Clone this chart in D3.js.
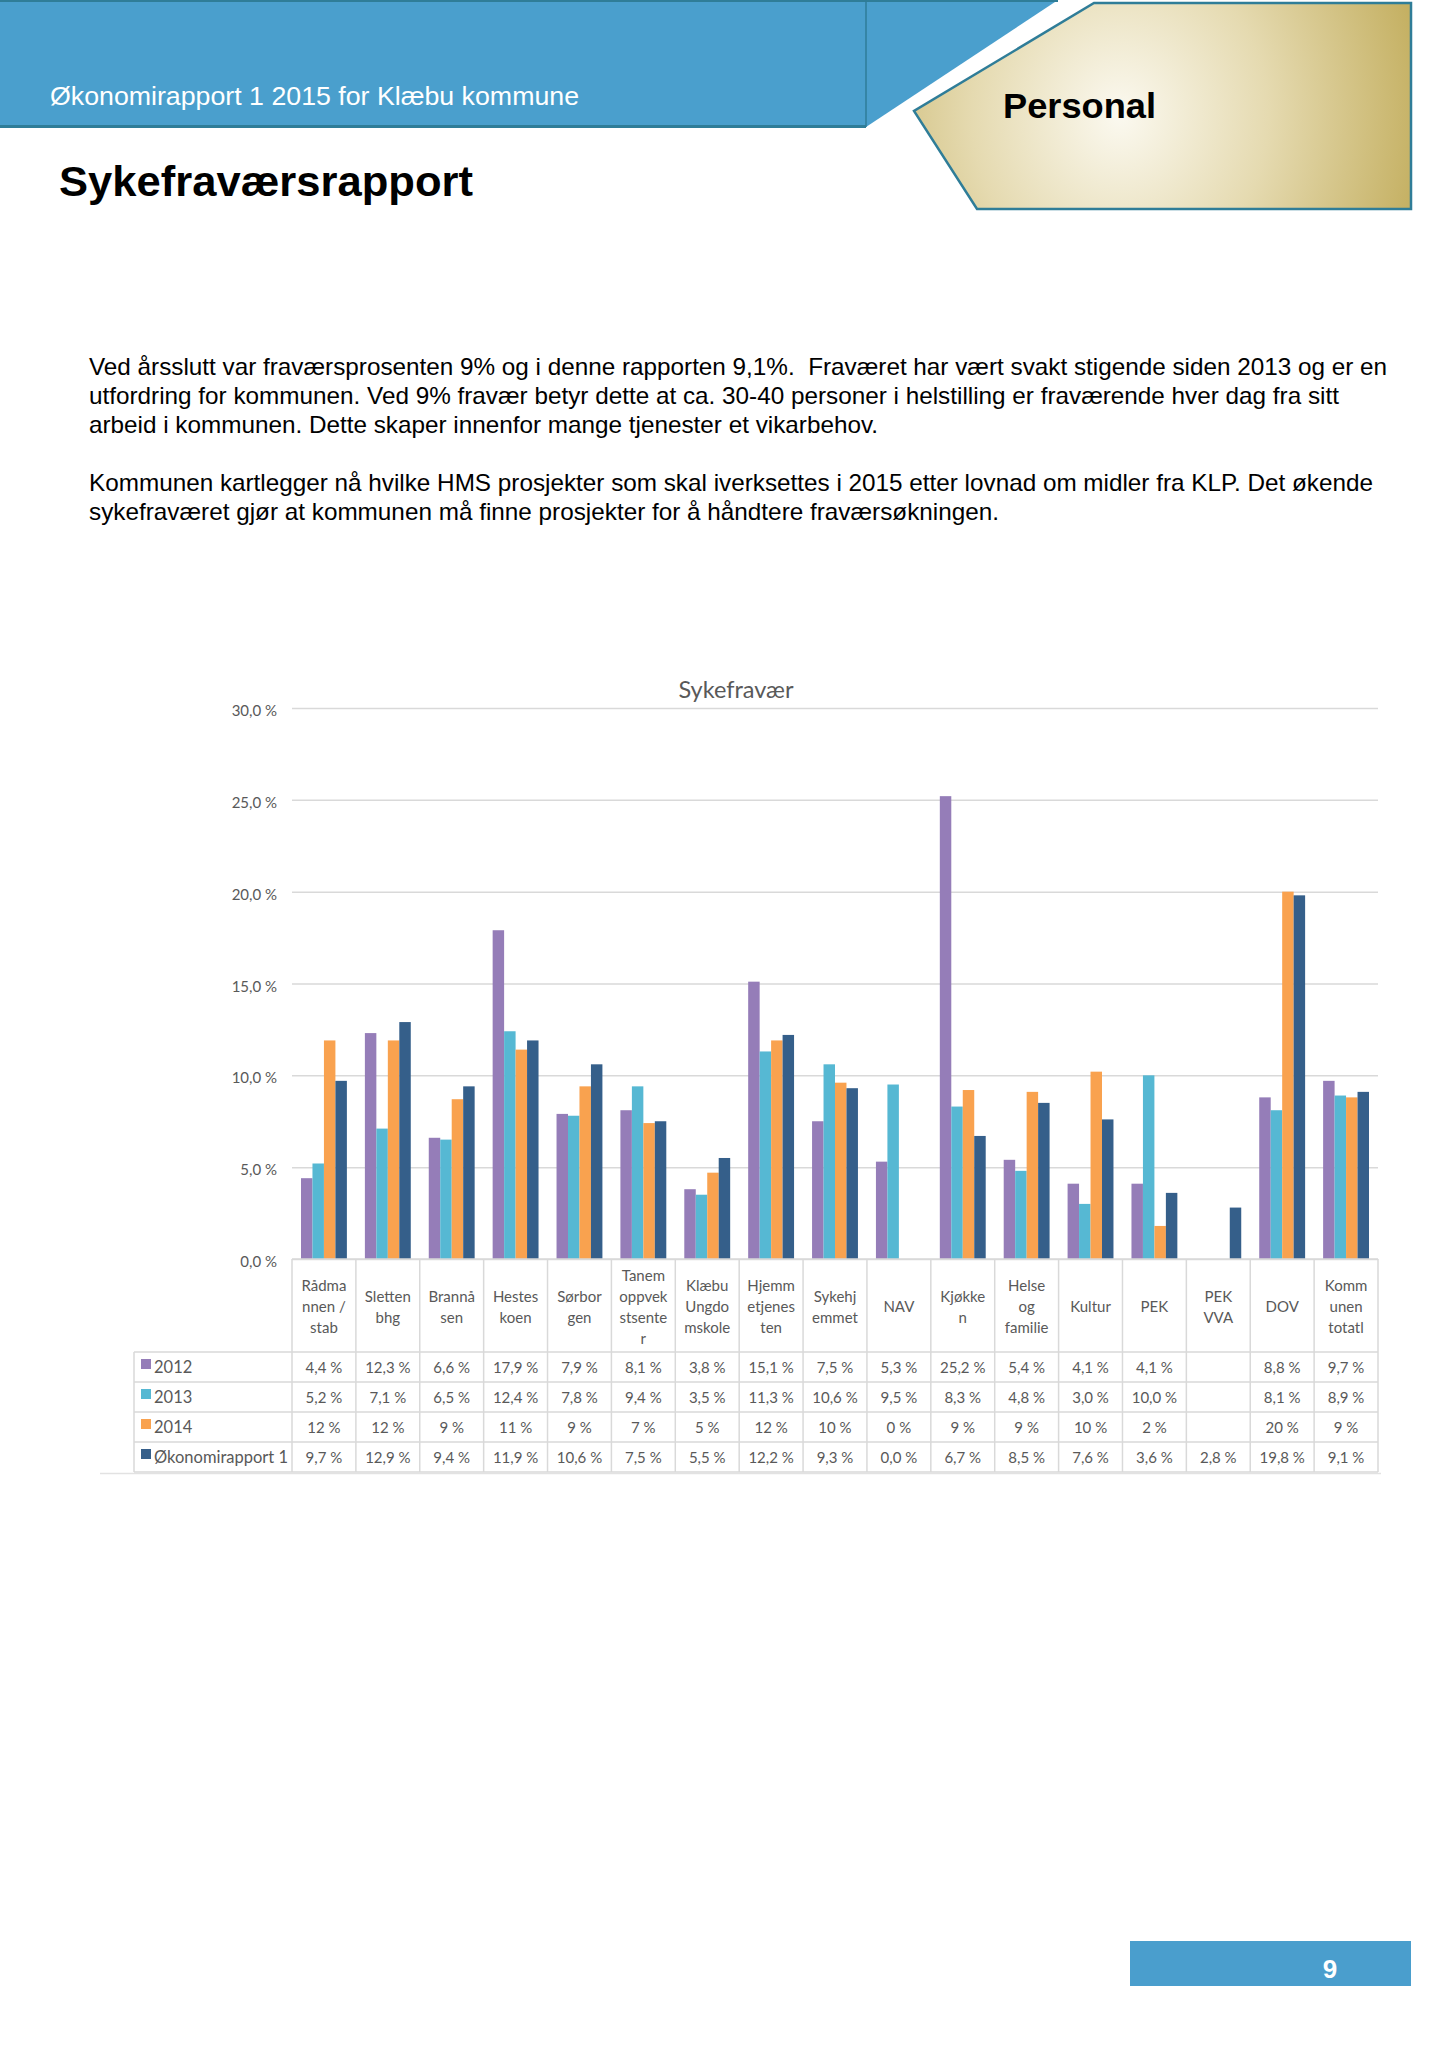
<!DOCTYPE html>
<html><head><meta charset="utf-8">
<script src="https://cdn.jsdelivr.net/npm/d3@7"></script>
<style>body{margin:0;background:#fff}svg{display:block}</style>
</head><body><svg id="page" width="1447" height="2048"></svg>
<script>
// ---------- DATA ----------
const headerTitle = "Økonomirapport 1 2015 for Klæbu kommune";
const sectionTitle = "Personal";
const pageTitle = "Sykefraværsrapport";
const bodyLines = [
  "Ved årsslutt var fraværsprosenten 9% og i denne rapporten 9,1%.  Fraværet har vært svakt stigende siden 2013 og er en",
  "utfordring for kommunen. Ved 9% fravær betyr dette at ca. 30-40 personer i helstilling er fraværende hver dag fra sitt",
  "arbeid i kommunen. Dette skaper innenfor mange tjenester et vikarbehov.",
  "",
  "Kommunen kartlegger nå hvilke HMS prosjekter som skal iverksettes i 2015 etter lovnad om midler fra KLP. Det økende",
  "sykefraværet gjør at kommunen må finne prosjekter for å håndtere fraværsøkningen."
];
const bodyWidths = [1298, 1250, 789, 0, 1284, 910];
const chartTitle = "Sykefravær";
const categoryLines = [
  ["Rådma","nnen /","stab"],["Sletten","bhg"],["Brannå","sen"],["Hestes","koen"],
  ["Sørbor","gen"],["Tanem","oppvek","stsente","r"],["Klæbu","Ungdo","mskole"],
  ["Hjemm","etjenes","ten"],["Sykehj","emmet"],["NAV"],["Kjøkke","n"],
  ["Helse","og","familie"],["Kultur"],["PEK"],["PEK","VVA"],["DOV"],["Komm","unen","totatl"]
];
const seriesNames = ["2012","2013","2014","Økonomirapport 1"];
const values2012 = [4.4,12.3,6.6,17.9,7.9,8.1,3.8,15.1,7.5,5.3,25.2,5.4,4.1,4.1,null,8.8,9.7];
const values2013 = [5.2,7.1,6.5,12.4,7.8,9.4,3.5,11.3,10.6,9.5,8.3,4.8,3.0,10.0,null,8.1,8.9];
const values2014 = [11.9,11.9,8.7,11.4,9.4,7.4,4.7,11.9,9.6,0,9.2,9.1,10.2,1.8,null,20.0,8.8];
const valuesOk1  = [9.7,12.9,9.4,11.9,10.6,7.5,5.5,12.2,9.3,0.0,6.7,8.5,7.6,3.6,2.8,19.8,9.1];
const seriesDecimals = [1,1,0,1];
const yTicks = [0,5,10,15,20,25,30];
const seriesColors = ["#957db8","#56b8d3","#f9a24f","#355f8a"];
const pageNumber = "9";

// ---------- PAGE ----------
const svg = d3.select("#page");
const defs = svg.append("defs");
const rg = defs.append("radialGradient").attr("id","gold")
  .attr("gradientUnits","userSpaceOnUse").attr("cx",1120).attr("cy",115).attr("r",330)
  .attr("gradientTransform","translate(1120 115) scale(1 1.1) translate(-1120 -115)");
rg.append("stop").attr("offset",0).attr("stop-color","#fbf9f0");
rg.append("stop").attr("offset",0.45).attr("stop-color","#e5dab0");
rg.append("stop").attr("offset",1).attr("stop-color","#bfa955");

// blue header
svg.append("polygon").attr("points","0,0 1058,0 866,127 0,127").attr("fill","#4a9fcd");
svg.append("line").attr("x1",0).attr("x2",1058).attr("y1",1).attr("y2",1).attr("stroke","#2f7d98").attr("stroke-width",2);
svg.append("line").attr("x1",0).attr("x2",866).attr("y1",126.5).attr("y2",126.5).attr("stroke","#2f7d98").attr("stroke-width",3);
svg.append("line").attr("x1",866).attr("x2",866).attr("y1",0).attr("y2",127).attr("stroke","#2f7d98").attr("stroke-width",1.5);
svg.append("text").attr("x",50).attr("y",105).attr("fill","#fff")
  .attr("font-family","Liberation Sans, Arial, sans-serif").attr("font-size",25)
  .attr("textLength",529).attr("lengthAdjust","spacingAndGlyphs").text(headerTitle);

// gold shape
svg.append("polygon").attr("points","1094,3 1411,3 1411,209 977,209 914,111")
  .attr("fill","url(#gold)").attr("stroke","#2f7d98").attr("stroke-width",2.5);
svg.append("text").attr("x",1003).attr("y",118).attr("fill","#000")
  .attr("font-family","Liberation Sans, Arial, sans-serif").attr("font-weight","bold").attr("font-size",35)
  .attr("textLength",153).attr("lengthAdjust","spacingAndGlyphs").text(sectionTitle);

svg.append("text").attr("x",59).attr("y",196).attr("fill","#000")
  .attr("font-family","Liberation Sans, Arial, sans-serif").attr("font-weight","bold").attr("font-size",43)
  .attr("textLength",414).attr("lengthAdjust","spacingAndGlyphs").text(pageTitle);

// body text
const bodyY = [375,404,433,0,491,520];
bodyLines.forEach((t,i)=>{
  if(!t) return;
  svg.append("text").attr("x",89).attr("y",bodyY[i]).attr("fill","#000")
    .style("white-space","pre")
    .attr("font-family","Liberation Sans, Arial, sans-serif").attr("font-size",24)
    .attr("textLength",bodyWidths[i]).attr("lengthAdjust","spacingAndGlyphs").text(t);
});

// page number box
svg.append("rect").attr("x",1130).attr("y",1941).attr("width",281).attr("height",45).attr("fill","#4a9ecd");
svg.append("text").attr("x",1330).attr("y",1978).attr("text-anchor","middle").attr("fill","#fff")
  .attr("font-family","Liberation Sans, Arial, sans-serif").attr("font-weight","bold").attr("font-size",26).text(pageNumber);

// ---------- CHART ----------
const font = "Lato, 'Open Sans', sans-serif";
const txt = "#595959";
const grid = "#d9d9d9";
const x0 = 292, x1 = 1378, yTop = 708, yZero = 1259;
const n = categoryLines.length;
const x = d3.scaleBand().domain(d3.range(n)).range([x0,x1]).paddingInner(0).paddingOuter(0);
const xs = d3.scaleBand().domain(d3.range(4)).range([9, x.bandwidth()-9]).padding(0);
const y = d3.scaleLinear().domain([0,30]).range([yZero,yTop]);
const series = [values2012, values2013, values2014, valuesOk1];

svg.append("text").attr("x",736).attr("y",698).attr("text-anchor","middle").attr("fill",txt)
  .attr("font-family",font).attr("font-size",23.5).text(chartTitle);

const yAxis = d3.axisLeft(y).tickValues(yTicks).tickSize(-(x1-x0)).tickPadding(15)
  .tickFormat(d=>d3.format(".1f")(d).replace(".",",")+" %");
const gy = svg.append("g").attr("transform",`translate(${x0},0)`).call(yAxis);
gy.select(".domain").remove();
gy.selectAll(".tick line").attr("stroke",grid).attr("stroke-width",1.5);
gy.selectAll(".tick text").attr("fill",txt).attr("font-family",font).attr("font-size",15).attr("dy","0.5em");

// bars
series.forEach((vals,s)=>{
  svg.append("g").selectAll("rect").data(vals.map((v,i)=>({v,i})).filter(d=>d.v!=null && d.v>0))
    .join("rect")
    .attr("x",d=>x(d.i)+xs(s)).attr("width",xs.bandwidth())
    .attr("y",d=>y(d.v)).attr("height",d=>yZero-y(d.v))
    .attr("fill",seriesColors[s]);
});

// table
const legendX = 134, catTop = yZero, catBottom = 1352, rowH = 30;
const tableBottom = catBottom + rowH*4;
const tg = svg.append("g");
tg.append("line").attr("x1",x0).attr("x2",x1).attr("y1",catTop).attr("y2",catTop).attr("stroke",grid).attr("stroke-width",1.5);
d3.range(5).forEach(r=>{
  const yy = catBottom + r*rowH;
  tg.append("line").attr("x1",legendX).attr("x2",x1).attr("y1",yy).attr("y2",yy).attr("stroke",grid).attr("stroke-width",1.5);
});
d3.range(n+1).forEach(i=>{
  const xx = i<n ? x(i) : x1;
  tg.append("line").attr("x1",xx).attr("x2",xx).attr("y1",catTop).attr("y2",tableBottom).attr("stroke",grid).attr("stroke-width",1.5);
});
tg.append("line").attr("x1",legendX).attr("x2",legendX).attr("y1",catBottom).attr("y2",tableBottom).attr("stroke",grid).attr("stroke-width",1.5);
tg.append("line").attr("x1",100).attr("x2",1381).attr("y1",tableBottom+1.5).attr("y2",tableBottom+1.5).attr("stroke","#e2e2e2").attr("stroke-width",1.5);

// category labels
const catMid = 1307, lineH = 21;
categoryLines.forEach((lines,i)=>{
  const t = tg.append("text").attr("text-anchor","middle").attr("fill",txt)
    .attr("font-family",font).attr("font-size",15);
  lines.forEach((l,k)=>{
    t.append("tspan").attr("x",x(i)+x.bandwidth()/2)
      .attr("y",catMid + (k-(lines.length-1)/2)*lineH + 5).text(l);
  });
});

// rows
series.forEach((vals,s)=>{
  const cy = catBottom + s*rowH + rowH/2;
  tg.append("rect").attr("x",141).attr("y",cy-8).attr("width",10).attr("height",10).attr("fill",seriesColors[s]);
  tg.append("text").attr("x",154).attr("y",cy+6).attr("fill",txt).attr("font-family",font).attr("font-size",16.5).text(seriesNames[s]);
  const fmt = d3.format("."+seriesDecimals[s]+"f");
  vals.forEach((v,i)=>{
    if(v==null) return;
    tg.append("text").attr("x",x(i)+x.bandwidth()/2).attr("y",cy+5.5)
      .attr("text-anchor","middle").attr("fill",txt).attr("font-family",font).attr("font-size",15)
      .text(fmt(v).replace(".",",")+" %");
  });
});
</script></body></html>
